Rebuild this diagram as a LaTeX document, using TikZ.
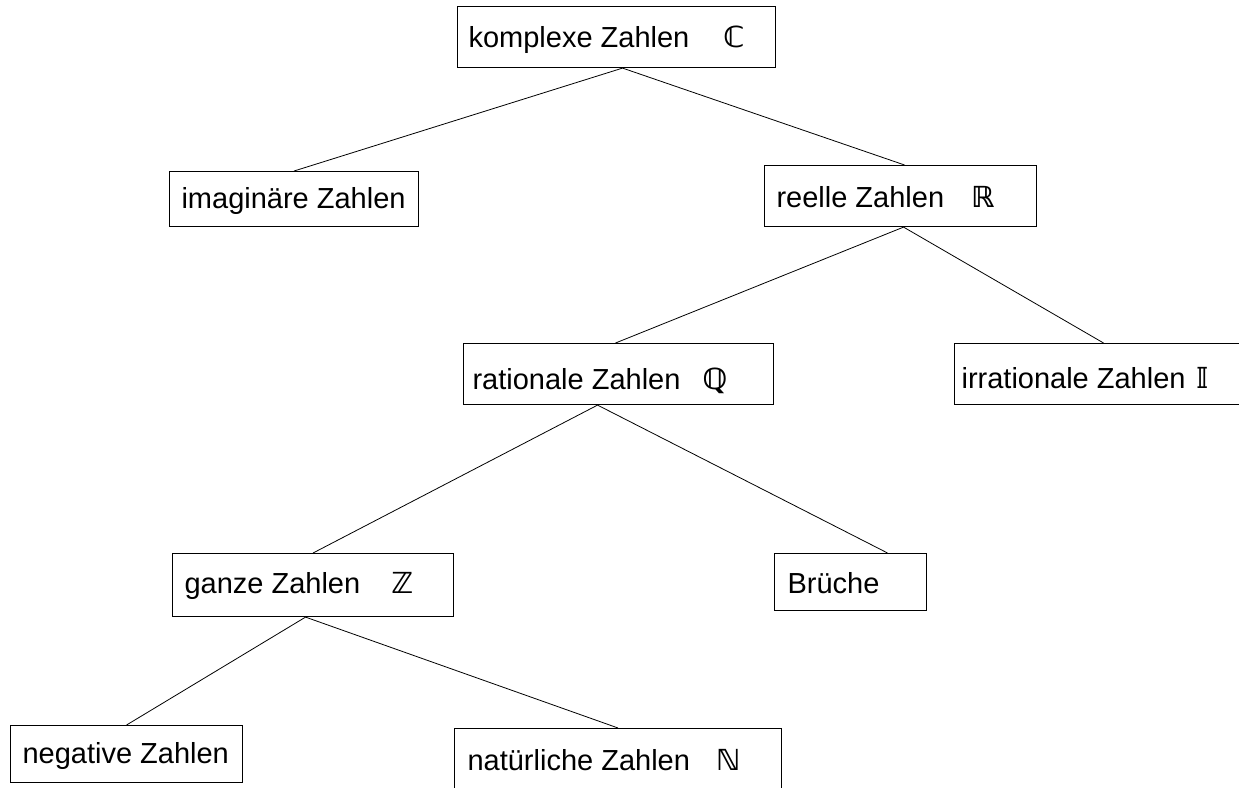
\documentclass[tikz,border=0pt]{standalone}
\usepackage{fontspec}
\setmainfont{Liberation Sans}
\newfontfamily\symfont{DejaVu Sans Bold}
\tikzset{
  box/.style={draw, line width=1.1pt, anchor=north west, inner ysep=0pt,
    font=\fontsize{29}{34}\selectfont},
  conn/.style={line width=0.8pt}
}
\newcommand{\bb}[1]{{\symfont #1}}
\begin{document}
\begin{tikzpicture}[x=1pt,y=-1pt]
\clip (0,0) rectangle (1239,787);
\fill[white] (0,0) rectangle (1239,787);
\node[box, inner xsep=11pt, text height=41pt, text depth=20pt] (k) at (457,6)
  {\makebox[296pt][l]{komplexe Zahlen\hspace*{34pt}\bb{ℂ}}};
\node[box, inner xsep=12pt, text height=37pt, text depth=18pt] (im) at (169,171)
  {\makebox[225pt][l]{imaginäre Zahlen}};
\node[box, inner xsep=12pt, text height=42pt, text depth=19pt] (r) at (764,165)
  {\makebox[248pt][l]{reelle Zahlen\hspace*{27pt}\bb{ℝ}}};
\node[box, inner xsep=9pt, text height=46pt, text depth=15pt] (q) at (463,343)
  {\makebox[292pt][l]{rationale Zahlen\hspace*{22pt}\bb{ℚ}}};
\node[box, inner xsep=7pt, text height=45pt, text depth=16pt] (ir) at (954,343)
  {\makebox[286pt][l]{irrationale Zahlen\hspace*{10pt}\bb{𝕀}}};
\node[box, inner xsep=12pt, text height=40pt, text depth=23pt] (z) at (172,553)
  {\makebox[257pt][l]{ganze Zahlen\hspace*{31pt}\bb{ℤ}}};
\node[box, inner xsep=13pt, text height=40pt, text depth=17pt] (b) at (774,553)
  {\makebox[126pt][l]{Brüche}};
\node[box, inner xsep=12pt, text height=38pt, text depth=19pt] (neg) at (10,725)
  {\makebox[208pt][l]{negative Zahlen}};
\node[box, inner xsep=13pt, text height=42pt, text depth=19pt] (n) at (454,728)
  {\makebox[301pt][l]{natürliche Zahlen\hspace*{26pt}\bb{ℕ}}};
\draw[conn] ([xshift=6pt]k.south) -- (im.north);
\draw[conn] ([xshift=6pt]k.south) -- ([xshift=4pt]r.north);
\draw[conn] ([xshift=3pt]r.south) -- ([xshift=-3pt]q.north);
\draw[conn] ([xshift=3pt]r.south) -- ([xshift=-1pt]ir.north);
\draw[conn] ([xshift=-21pt]q.south) -- (z.north);
\draw[conn] ([xshift=-21pt]q.south) -- ([xshift=37pt]b.north);
\draw[conn] ([xshift=-7.5pt]z.south) -- (neg.north);
\draw[conn] ([xshift=-7.5pt]z.south) -- (n.north);
\end{tikzpicture}
\end{document}
